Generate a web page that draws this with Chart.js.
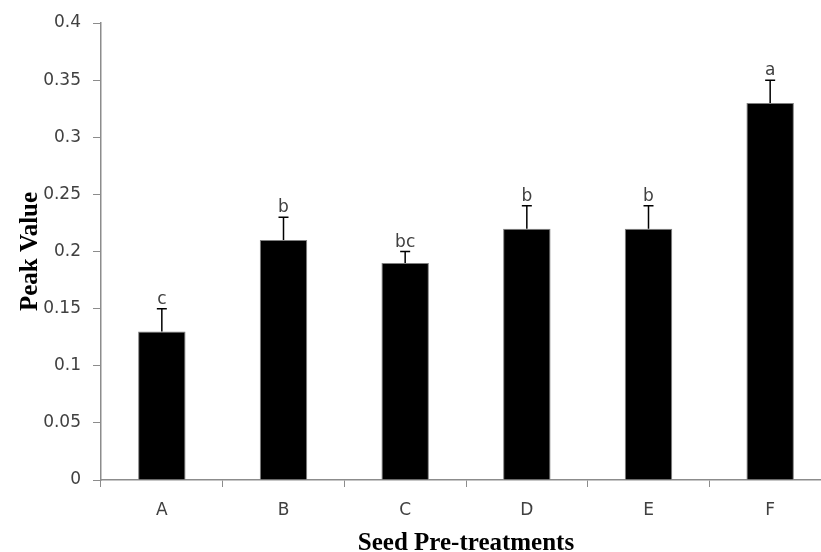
<!DOCTYPE html>
<html lang="en">
<head>
    <meta charset="UTF-8">
    <title>Peak Value by Seed Pre-treatment</title>
    <script src="https://cdn.jsdelivr.net/npm/chart.js"></script>
    <style>
        html, body { margin: 0; padding: 0; background: #fff; overflow: hidden; }
        .chart-box { width: 832px; height: 552px; position: relative; }
    </style>
</head>
<body>
<div class="chart-box">
    <canvas id="peakChart"></canvas>
</div>
<script>
// data
const categories = ['A', 'B', 'C', 'D', 'E', 'F'];
const peakValues = [0.13, 0.21, 0.19, 0.22, 0.22, 0.33];
const errorValues = [0.02, 0.02, 0.01, 0.02, 0.02, 0.02];
const letters = ['c', 'b', 'bc', 'b', 'b', 'a'];
const yTicks = [0, 0.05, 0.1, 0.15, 0.2, 0.25, 0.3, 0.35, 0.4];
const yTitle = 'Peak Value';
const xTitle = 'Seed Pre-treatments';

const axisGray = '#8c8c8c';
const tickFont = { family: '"DejaVu Sans", Verdana, sans-serif', size: 17 };

// error bars, significance letters and axis titles
const annotate = {
    id: 'annotate',
    afterDatasetsDraw(chart) {
        const ctx = chart.ctx;
        const y = chart.scales.y;
        const bars = chart.getDatasetMeta(0).data;
        ctx.save();
        ctx.strokeStyle = '#000';
        ctx.lineWidth = 1.5;
        bars.forEach((bar, i) => {
            const top = y.getPixelForValue(peakValues[i] + errorValues[i]);
            const base = y.getPixelForValue(peakValues[i]);
            ctx.beginPath();
            ctx.moveTo(bar.x, base);
            ctx.lineTo(bar.x, top);
            ctx.moveTo(bar.x - 5, top);
            ctx.lineTo(bar.x + 5, top);
            ctx.stroke();

            ctx.fillStyle = '#404040';
            ctx.font = '17px "DejaVu Sans", Verdana, sans-serif';
            ctx.textAlign = 'center';
            ctx.textBaseline = 'alphabetic';
            ctx.fillText(letters[i], bar.x, top - 5);
        });

        const area = chart.chartArea;
        ctx.fillStyle = '#000';
        ctx.font = 'bold 25px "Liberation Serif", "Times New Roman", serif';
        ctx.textAlign = 'center';
        ctx.textBaseline = 'alphabetic';
        ctx.fillText(xTitle, (area.left + area.right) / 2, 550);

        ctx.translate(37, (area.top + area.bottom) / 2);
        ctx.rotate(-Math.PI / 2);
        ctx.fillText(yTitle, 0, 0);
        ctx.restore();
    }
};

const peakChart = new Chart(document.getElementById('peakChart'), {
    type: 'bar',
    data: {
        labels: categories,
        datasets: [{
            data: peakValues,
            backgroundColor: '#000',
            borderColor: '#7f7f7f',
            borderWidth: 1,
            barPercentage: 0.39,
            categoryPercentage: 1
        }]
    },
    options: {
        responsive: true,
        maintainAspectRatio: false,
        animation: false,
        layout: { padding: { top: 23, right: 1, left: 0, bottom: 0 } },
        plugins: {
            legend: { display: false },
            tooltip: { enabled: false }
        },
        scales: {
            x: {
                grid: {
                    display: true,
                    offset: true,
                    drawOnChartArea: false,
                    color: axisGray,
                    tickLength: 7
                },
                border: { color: axisGray, width: 1.5 },
                ticks: { color: '#404040', font: tickFont, padding: 13 },
                afterFit(scale) { scale.height = 72; }
            },
            y: {
                min: 0,
                max: 0.4,
                grid: {
                    drawOnChartArea: false,
                    color: axisGray,
                    tickLength: 8
                },
                border: { color: axisGray, width: 1.5 },
                ticks: {
                    color: '#404040',
                    font: tickFont,
                    padding: 12,
                    callback: v => String(+v.toFixed(2))
                },
                afterBuildTicks(scale) {
                    scale.ticks = yTicks.map(v => ({ value: v }));
                },
                afterFit(scale) { scale.width = 101; }
            }
        }
    },
    plugins: [annotate]
});
</script>
</body>
</html>
